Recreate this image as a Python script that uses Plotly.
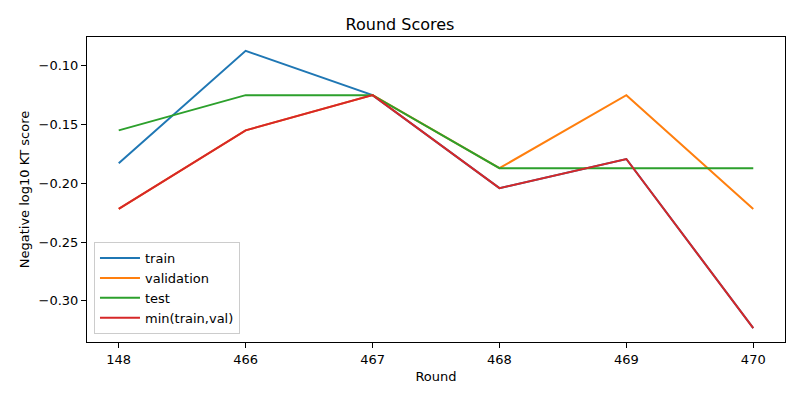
import plotly.graph_objects as go

rounds = ["148", "466", "467", "468", "469", "470"]
train = [-0.1828, -0.0872, -0.1249, -0.2041, -0.1793, -0.3233]
validation = [-0.2218, -0.1549, -0.1249, -0.1871, -0.1249, -0.2218]
test = [-0.1549, -0.1249, -0.1249, -0.1871, -0.1871, -0.1871]
min_train_val = [min(a, b) for a, b in zip(train, validation)]

xs = list(range(len(rounds)))

series = [
    ("train", train, "#1f77b4"),
    ("validation", validation, "#ff7f0e"),
    ("test", test, "#2ca02c"),
    ("min(train,val)", min_train_val, "#d62728"),
]

fig = go.Figure()
for name, ys, color in series:
    fig.add_trace(go.Scatter(
        x=xs, y=ys, mode="lines", name=name,
        line=dict(color=color, width=2),
    ))

axis_common = dict(
    showline=True, linecolor="black", linewidth=1, mirror=True,
    ticks="outside", ticklen=5, tickcolor="black",
    showgrid=False, zeroline=False, automargin=False,
    tickfont=dict(size=13, color="black"),
)

ymin = min(min(s[1]) for s in series)
ymax = max(max(s[1]) for s in series)
pad = (ymax - ymin) * 0.05

fig.update_layout(
    width=800, height=400,
    margin=dict(l=87, r=15, t=37, b=58),
    paper_bgcolor="white", plot_bgcolor="white",
    font=dict(family="DejaVu Sans", size=13, color="black"),
    title=dict(text="Round Scores", x=0.5, xanchor="center", y=0.94, yanchor="middle",
               font=dict(size=16)),
    xaxis=dict(axis_common, tickvals=xs, ticktext=rounds, range=[-0.25, 5.25],
               title=dict(text="Round", standoff=6, font=dict(size=13))),
    yaxis=dict(axis_common, range=[ymin - pad, ymax + pad], tickformat=".2f",
               dtick=0.05, tick0=0,
               title=dict(text="Negative log10 KT score", standoff=6, font=dict(size=13))),
    legend=dict(x=0.01, y=0.026, xanchor="left", yanchor="bottom",
                bordercolor="#cccccc", borderwidth=1, bgcolor="rgba(255,255,255,0.8)",
                font=dict(size=13), tracegroupgap=0, itemwidth=40),
    showlegend=True,
)

# drop the default page margin so the figure sits at the window corner
fig.write_html("out.html", config={"displayModeBar": False},
               post_script="document.body.style.margin='0';")
